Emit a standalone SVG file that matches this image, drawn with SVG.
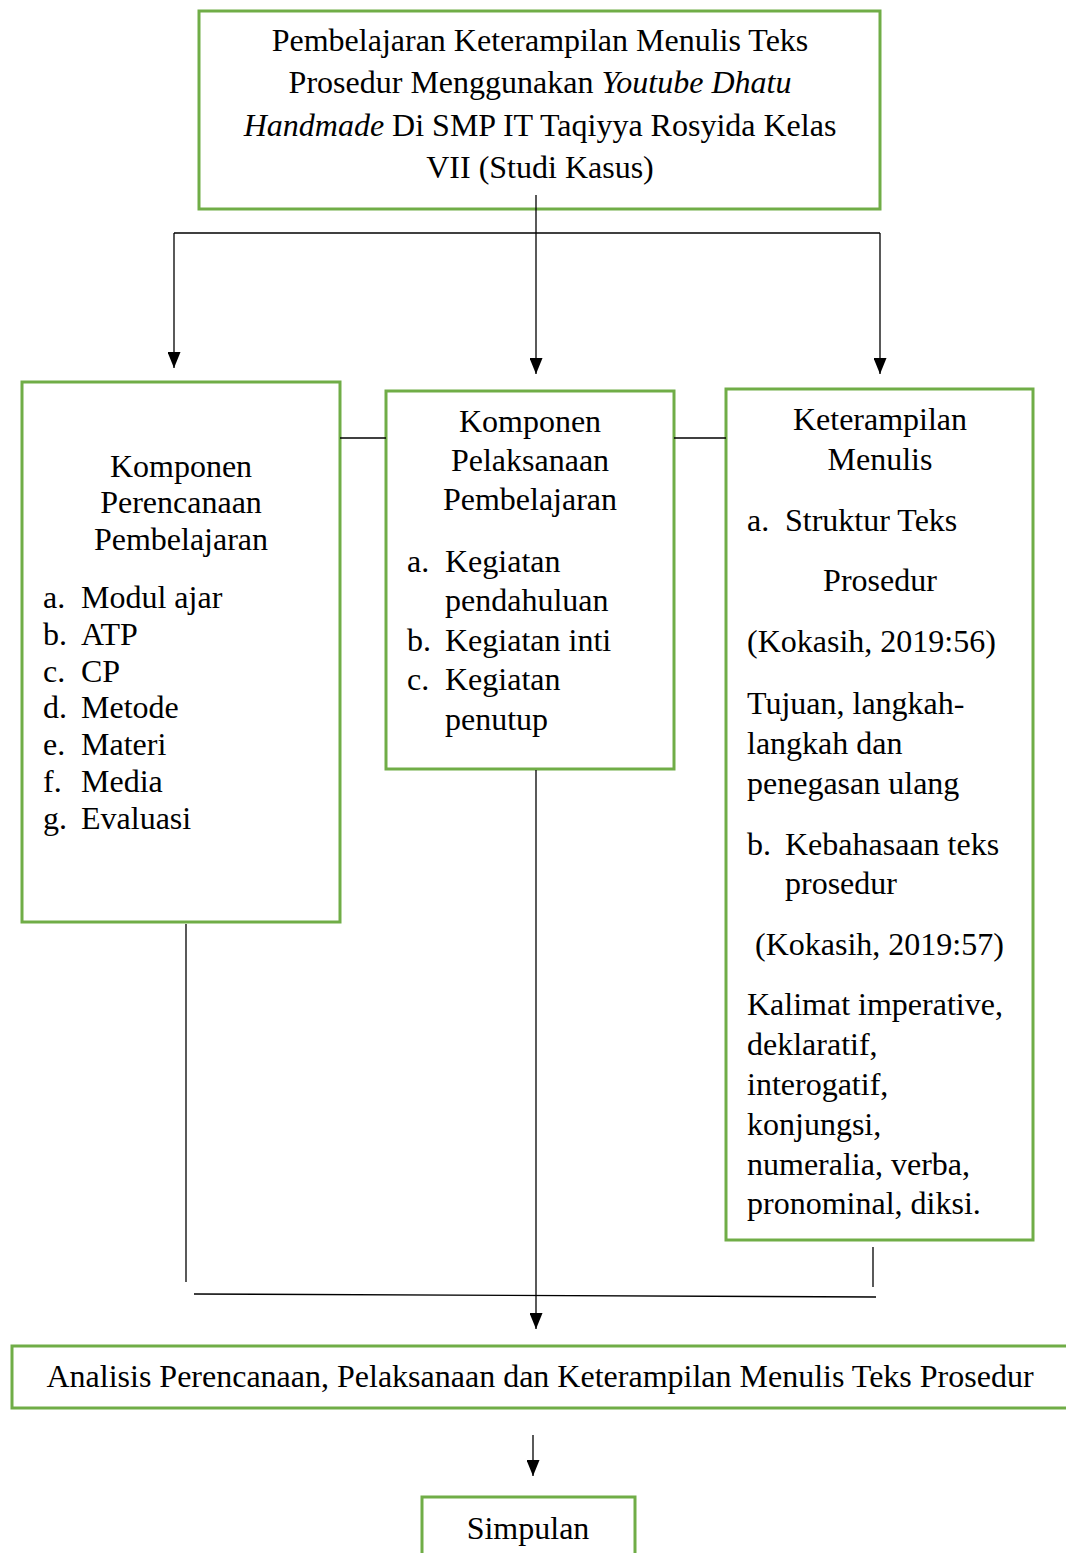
<svg xmlns="http://www.w3.org/2000/svg" width="1066" height="1553" viewBox="0 0 1066 1553">
<defs>
<marker id="arr" viewBox="0 0 16 13" markerWidth="16" markerHeight="13" refX="16" refY="6.5" orient="auto" markerUnits="userSpaceOnUse">
<path d="M0,0 L16,6.5 L0,13 z" fill="#000"/>
</marker>
<style>
.box{fill:#fff;stroke:#70AD47;stroke-width:3}
.t{font-family:"Liberation Serif","Times New Roman",serif;font-size:32px;fill:#000}
.c{text-anchor:middle}
.ln{stroke:#000;stroke-width:1.3;fill:none}
.i{font-style:italic}
</style>
</defs>
<rect width="1066" height="1553" fill="#fff"/>

<g id="node-top">
<rect class="box" x="199" y="11" width="681" height="198"/>
<text class="t c" x="540" y="51">Pembelajaran Keterampilan Menulis Teks</text>
<text class="t c" x="540" y="93">Prosedur Menggunakan <tspan class="i">Youtube Dhatu</tspan></text>
<text class="t c" x="540" y="136"><tspan class="i">Handmade</tspan> Di SMP IT Taqiyya Rosyida Kelas</text>
<text class="t c" x="540" y="178">VII (Studi Kasus)</text>
</g>

<g id="node-perencanaan">
<rect class="box" x="22" y="382" width="318" height="540"/>
<text class="t c" x="181" y="477">Komponen</text>
<text class="t c" x="181" y="513">Perencanaan</text>
<text class="t c" x="181" y="550">Pembelajaran</text>
<text class="t" x="43" y="608">a.</text><text class="t" x="81" y="608">Modul ajar</text>
<text class="t" x="43" y="645">b.</text><text class="t" x="81" y="645">ATP</text>
<text class="t" x="43" y="682">c.</text><text class="t" x="81" y="682">CP</text>
<text class="t" x="43" y="718">d.</text><text class="t" x="81" y="718">Metode</text>
<text class="t" x="43" y="755">e.</text><text class="t" x="81" y="755">Materi</text>
<text class="t" x="43" y="792">f.</text><text class="t" x="81" y="792">Media</text>
<text class="t" x="43" y="829">g.</text><text class="t" x="81" y="829">Evaluasi</text>
</g>

<g id="node-pelaksanaan">
<rect class="box" x="386" y="391" width="288" height="378"/>
<text class="t c" x="530" y="432">Komponen</text>
<text class="t c" x="530" y="471">Pelaksanaan</text>
<text class="t c" x="530" y="510">Pembelajaran</text>
<text class="t" x="407" y="572">a.</text><text class="t" x="445" y="572">Kegiatan</text>
<text class="t" x="445" y="611">pendahuluan</text>
<text class="t" x="407" y="651">b.</text><text class="t" x="445" y="651">Kegiatan inti</text>
<text class="t" x="407" y="690">c.</text><text class="t" x="445" y="690">Kegiatan</text>
<text class="t" x="445" y="730">penutup</text>
</g>

<g id="node-keterampilan">
<rect class="box" x="726" y="389" width="307" height="851"/>
<text class="t c" x="880" y="430">Keterampilan</text>
<text class="t c" x="880" y="470">Menulis</text>
<text class="t" x="747" y="531">a.</text><text class="t" x="785" y="531">Struktur Teks</text>
<text class="t c" x="880" y="591">Prosedur</text>
<text class="t" x="747" y="652">(Kokasih, 2019:56)</text>
<text class="t" x="747" y="714">Tujuan, langkah-</text>
<text class="t" x="747" y="754">langkah dan</text>
<text class="t" x="747" y="794">penegasan ulang</text>
<text class="t" x="747" y="855">b.</text><text class="t" x="785" y="855">Kebahasaan teks</text>
<text class="t" x="785" y="894">prosedur</text>
<text class="t" x="755" y="955">(Kokasih, 2019:57)</text>
<text class="t" x="747" y="1015">Kalimat imperative,</text>
<text class="t" x="747" y="1055">deklaratif,</text>
<text class="t" x="747" y="1095">interogatif,</text>
<text class="t" x="747" y="1135">konjungsi,</text>
<text class="t" x="747" y="1175">numeralia, verba,</text>
<text class="t" x="747" y="1214">pronominal, diksi.</text>
</g>

<g id="node-analisis">
<rect class="box" x="12" y="1346" width="1070" height="62"/>
<text class="t c" x="540" y="1387">Analisis Perencanaan, Pelaksanaan dan Keterampilan Menulis Teks Prosedur</text>
</g>

<g id="node-simpulan">
<rect class="box" x="422" y="1497" width="213" height="70"/>
<text class="t c" x="528" y="1539">Simpulan</text>
</g>

<g id="connectors">
<line class="ln" x1="536" y1="195" x2="536" y2="374" marker-end="url(#arr)"/>
<line class="ln" x1="174" y1="233" x2="880" y2="233"/>
<line class="ln" x1="174" y1="233" x2="174" y2="368" marker-end="url(#arr)"/>
<line class="ln" x1="880" y1="233" x2="880" y2="374" marker-end="url(#arr)"/>
<line class="ln" x1="340" y1="438" x2="386" y2="438"/>
<line class="ln" x1="674" y1="438" x2="726" y2="438"/>
<line class="ln" x1="186" y1="924" x2="186" y2="1282"/>
<line class="ln" x1="536" y1="770" x2="536" y2="1329" marker-end="url(#arr)"/>
<line class="ln" x1="873" y1="1247" x2="873" y2="1287"/>
<line class="ln" x1="194" y1="1294" x2="876" y2="1297"/>
<line class="ln" x1="533" y1="1435" x2="533" y2="1476" marker-end="url(#arr)"/>
</g>
</svg>
